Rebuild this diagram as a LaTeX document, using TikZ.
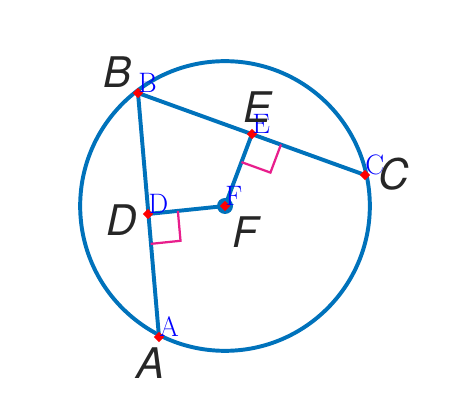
\documentclass[tikz,border=0pt]{standalone}
\usepackage{fontspec}
\newfontfamily\heros{TeX Gyre Heros}
\usetikzlibrary{shapes.geometric,calc}
\definecolor{circblue}{RGB}{0,114,187}
\definecolor{rightpink}{RGB}{232,30,140}

\begin{document}
\begin{tikzpicture}[x=0.025cm, y=-0.025cm,
  seg/.style={draw=circblue, line width=2.8pt, line cap=round},
  rtmark/.style={draw=rightpink, line width=1.6pt},
  pt/.style={diamond, fill=red, inner sep=0pt, minimum size=0.26cm},
  big/.style={font=\heros\itshape\fontsize{30}{30}\selectfont, text=black!85, inner sep=0pt},
  tag/.style={font=\fontsize{20}{20}\selectfont, text=blue, inner sep=0pt, anchor=south west},
]
\useasboundingbox (0,0) rectangle (460,418);
% points
\coordinate (F) at (225,206);
\coordinate (B) at (138,93);
\coordinate (C) at (365,175);
\coordinate (E) at (252,134);
\coordinate (D) at (148,214);
\coordinate (A) at (159,337);
% circle and chords
\draw[seg] (F) circle[radius=3.62cm];
\draw[seg] (B) -- (A);
\draw[seg] (B) -- (C);
\draw[seg] (D) -- (F) -- (E);
% right angle marks
\coordinate (dF) at ($(D)!0.75cm!(F)$);
\coordinate (dA) at ($(D)!0.75cm!(A)$);
\draw[rtmark] (dF) -- ($(dF)+(dA)-(D)$) -- (dA);
\coordinate (eC) at ($(E)!0.77cm!(C)$);
\coordinate (eF) at ($(E)!0.75cm!(F)$);
\draw[rtmark] (eC) -- ($(eC)+(eF)-(E)$) -- (eF);
% center dot and markers
\fill[circblue] (F) circle[radius=0.2cm];
\foreach \p in {A,B,C,D,E,F}
  \node[pt] at (\p) {};
% blue tags
\foreach \p in {A,B,C,D,E,F}
  \node[tag] at (\p) {\p};
% big labels
\node[big] (lB) at (118,72) {B};
\node[big] (lE) at (258,107) {E};
\node[big] (lC) at (394,174) {C};
\node[big] (lD) at (122,220) {D};
\node[big] (lF) at (245,232) {F};
\node[big] (lA) at (151,363) {A};
\end{tikzpicture}
\end{document}
